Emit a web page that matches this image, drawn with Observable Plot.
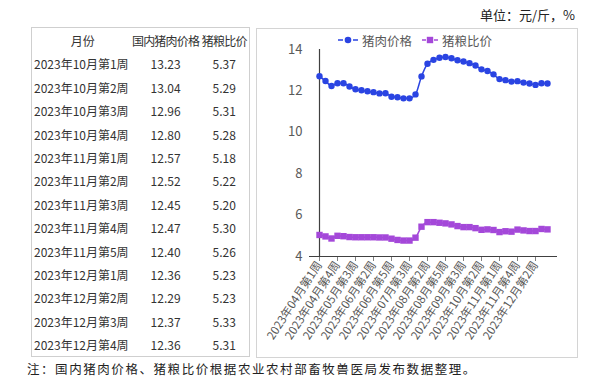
<!DOCTYPE html>
<html>
<head>
<meta charset="utf-8">
<script src="https://cdn.jsdelivr.net/npm/d3@7"></script>
<script src="https://cdn.jsdelivr.net/npm/@observablehq/plot@0.6"></script>
<style>
  html, body { margin: 0; padding: 0; background: #fff; }
  #page { position: relative; width: 602px; height: 386px; font-family: "Noto Sans CJK SC", "Noto Sans", sans-serif; overflow: hidden; }
  #unit { position: absolute; right: 27px; top: 6px; font-size: 13px; color: #222; line-height: 18px; white-space: nowrap; }
  #tbl { position: absolute; left: 31px; top: 27px; width: 219px; height: 330px; box-sizing: border-box; border: 1px solid #cfcfcf; }
  #tbl table { border-collapse: collapse; margin-top: 1px; }
  #tbl td { height: 23.4px; padding: 0; font-size: 12px; color: #333; white-space: nowrap; line-height: 23.4px; }
  #tbl td.c1 { width: 98px; padding-left: 2px; }
  #tbl td.c2 { width: 68px; text-align: center; }
  #tbl td.c3 { width: 50px; text-align: center; }
  #tbl tr.head td { letter-spacing: -0.8px; }
  #tbl tr.head td.c1 { text-align: center; letter-spacing: 0; }
  #box { position: absolute; left: 256px; top: 28px; width: 322px; height: 330px; box-sizing: border-box; border: 1px solid #d4d4d4; }
  #chart { position: absolute; left: 256px; top: 28px; }
  #legend { position: absolute; left: 338px; top: 31px; height: 18px; display: flex; align-items: center; font-size: 12.5px; color: #595959; white-space: nowrap; }
  #legend .item { display: flex; align-items: center; margin-right: 10px; }
  #legend svg { margin-right: 4px; }
  #note { position: absolute; left: 27px; top: 360px; font-size: 12.5px; letter-spacing: 1.56px; color: #222; white-space: nowrap; line-height: 18px; }
</style>
</head>
<body>
<div id="page">
  <div id="unit"></div>
  <div id="tbl"></div>
  <div id="box"></div>
  <div id="chart"></div>
  <div id="legend"></div>
  <div id="note"></div>
</div>
<script>
// ---- data ----
const weeks = [
  "2023年04月第1周","2023年04月第2周","2023年04月第3周","2023年04月第4周",
  "2023年05月第1周","2023年05月第2周","2023年05月第3周","2023年05月第4周",
  "2023年06月第1周","2023年06月第2周","2023年06月第3周","2023年06月第4周","2023年06月第5周",
  "2023年07月第1周","2023年07月第2周","2023年07月第3周","2023年07月第4周",
  "2023年08月第1周","2023年08月第2周","2023年08月第3周","2023年08月第4周","2023年08月第5周",
  "2023年09月第1周","2023年09月第2周","2023年09月第3周","2023年09月第4周",
  "2023年10月第1周","2023年10月第2周","2023年10月第3周","2023年10月第4周",
  "2023年11月第1周","2023年11月第2周","2023年11月第3周","2023年11月第4周","2023年11月第5周",
  "2023年12月第1周","2023年12月第2周","2023年12月第3周","2023年12月第4周"
];
const porkPrice = [
  12.71,12.48,12.24,12.37,12.37,12.21,12.08,12.03,11.98,11.94,11.88,11.89,11.72,
  11.69,11.64,11.64,11.83,12.70,13.31,13.50,13.60,13.64,13.58,13.48,13.42,13.34,
  13.23,13.04,12.96,12.80,12.57,12.52,12.45,12.47,12.40,12.36,12.29,12.37,12.36
];
const hogGrainRatio = [
  5.04,4.97,4.87,5.00,4.98,4.94,4.93,4.93,4.93,4.93,4.92,4.92,4.86,
  4.80,4.77,4.77,4.91,5.44,5.66,5.66,5.63,5.60,5.55,5.47,5.42,5.42,
  5.37,5.29,5.31,5.28,5.18,5.22,5.20,5.30,5.26,5.23,5.23,5.33,5.31
];
const xTickLabels = [
  "2023年04月第1周","2023年04月第4周","2023年05月第3周","2023年06月第2周","2023年06月第5周",
  "2023年07月第3周","2023年08月第2周","2023年08月第5周","2023年09月第3周","2023年10月第2周",
  "2023年11月第1周","2023年11月第4周","2023年12月第2周"
];
const yTicks = [4, 6, 8, 10, 12, 14];
const seriesNames = ["猪肉价格", "猪粮比价"];

const tableHeader = ["月份", "国内猪肉价格", "猪粮比价"];
const tableWeeks = [
  "2023年10月第1周","2023年10月第2周","2023年10月第3周","2023年10月第4周",
  "2023年11月第1周","2023年11月第2周","2023年11月第3周","2023年11月第4周","2023年11月第5周",
  "2023年12月第1周","2023年12月第2周","2023年12月第3周","2023年12月第4周"
];
const tablePork = ["13.23","13.04","12.96","12.80","12.57","12.52","12.45","12.47","12.40","12.36","12.29","12.37","12.36"];
const tableRatio = ["5.37","5.29","5.31","5.28","5.18","5.22","5.20","5.30","5.26","5.23","5.23","5.33","5.31"];

const unitText = "单位：元/斤，%";
const noteText = "注：国内猪肉价格、猪粮比价根据农业农村部畜牧兽医局发布数据整理。";

// ---- styles ----
const BLUE = "#2a44e2";
const PURPLE = "#a448d9";

// ---- texts ----
document.getElementById("unit").textContent = unitText;
document.getElementById("note").textContent = noteText;

// ---- table ----
{
  const t = document.createElement("table");
  const hr = t.insertRow(); hr.className = "head";
  tableHeader.forEach((h, i) => { const c = hr.insertCell(); c.className = "c" + (i + 1); c.textContent = h; });
  tableWeeks.forEach((w, i) => {
    const r = t.insertRow();
    [w, tablePork[i], tableRatio[i]].forEach((v, j) => { const c = r.insertCell(); c.className = "c" + (j + 1); c.textContent = v; });
  });
  document.getElementById("tbl").appendChild(t);
}

// ---- legend ----
{
  const lg = document.getElementById("legend");
  const sym = [
    `<svg width="20" height="10"><line x1="0" y1="5" x2="20" y2="5" stroke="${BLUE}" stroke-width="1.5" stroke-dasharray="5,10,5"/><circle cx="10" cy="5" r="3.3" fill="${BLUE}"/></svg>`,
    `<svg width="16" height="10"><line x1="0" y1="5" x2="16" y2="5" stroke="${PURPLE}" stroke-width="1.5" stroke-dasharray="4,8,4"/><rect x="4.8" y="1.8" width="6.4" height="6.4" fill="${PURPLE}"/></svg>`
  ];
  seriesNames.forEach((n, i) => {
    const d = document.createElement("div"); d.className = "item";
    d.innerHTML = sym[i] + `<span>${n}</span>`;
    lg.appendChild(d);
  });
}

// ---- chart ----
const porkData = weeks.map((w, i) => ({week: w, value: porkPrice[i]}));
const ratioData = weeks.map((w, i) => ({week: w, value: hogGrainRatio[i]}));

const chart = Plot.plot({
  width: 321,
  height: 329,
  marginLeft: 53,
  marginRight: 20,
  marginTop: 21,
  marginBottom: 101,
  style: {fontFamily: "'Noto Sans CJK SC', 'Noto Sans', sans-serif", color: "#595959", background: "transparent", overflow: "visible"},
  x: {type: "point", domain: weeks, padding: 0},
  y: {domain: [4, 14]},
  marks: [
    Plot.axisY({ticks: yTicks, tickSize: 0, tickPadding: 7, fontSize: 13, label: null, tickFormat: d => String(d)}),
    Plot.axisX({ticks: xTickLabels, tickSize: 5, tickRotate: -57, tickPadding: 1, fontSize: 11.5, label: null, stroke: "#808080"}),
    Plot.ruleY([4], {stroke: "#404040", strokeWidth: 1.2}),
    Plot.ruleX([weeks[0]], {y1: 4, y2: 14, stroke: "#404040", strokeWidth: 1.2}),
    Plot.line(porkData, {x: "week", y: "value", stroke: BLUE, strokeWidth: 1.5, curve: "monotone-x"}),
    Plot.dot(porkData, {x: "week", y: "value", fill: BLUE, r: 3.2, symbol: "circle"}),
    Plot.line(ratioData, {x: "week", y: "value", stroke: PURPLE, strokeWidth: 1.5, curve: "monotone-x"}),
    Plot.dot(ratioData, {x: "week", y: "value", fill: PURPLE, r: 3.6, symbol: "square"})
  ]
});
document.getElementById("chart").appendChild(chart);
</script>
</body>
</html>
